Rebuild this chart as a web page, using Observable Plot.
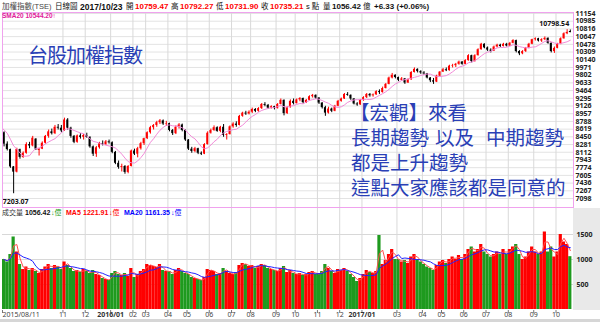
<!DOCTYPE html>
<html><head><meta charset="utf-8">
<script src="https://cdn.jsdelivr.net/npm/d3@7"></script>
<script src="https://cdn.jsdelivr.net/npm/@observablehq/plot@0.6"></script>
<style>
body{margin:0;background:#fff;}
#c{position:relative;width:600px;height:322px;overflow:hidden;background:#fff;font-family:"Liberation Sans","Noto Sans CJK TC",sans-serif;}
#c svg{position:absolute;left:0;}
.a{position:absolute;white-space:pre;line-height:1;}
.h{font-size:7.5px;color:#111;top:3px;}
.hb{font-size:8px;font-weight:bold;top:3px;}
.big{font-family:"Liberation Sans","Noto Sans CJK TC",sans-serif;color:#2a3fb6;font-size:19.5px;}
.v{font-size:7px;top:209px;}
</style></head><body><div id="c"></div><script>
// ---- data (one entry ≈ 3 trading days) ----
const months = ["2015/08/11","09","10","11","12","2016/01","02","03","04","05","06","07","08","09","10","11","12","2017/01","02","03","04","05","06","07","08","09","10"];
const monthCounts = [5,7,7,7,8,7,4,7,6,7,7,6,8,6,7,7,7,5,6,8,6,7,7,7,8,7,5];
const opens = [8540,8290,8170,7790,7676, 8170,8000,8090,8280,8250,8400,8150, 8180,8310,8460,8560,8520,8660,8640,
 8580,8820,8640,8460,8330,8470,8440, 8480,8440,8230,8070,8210,8300,8280,8340,
 8320,8110,7870,7780,7800,7670,7800, 8140,8070,8190,8300, 8410,8540,8650,8700,8760,8800,8730,
 8740,8590,8520,8660,8710,8590, 8380,8180,8130,8190,8090,8070,8280, 8530,8590,8650,8570,8660,8480,8500,
 8670,8730,8700,8900,8970,8950, 8990,9050,9010,9070,9160,9140,9080,9110, 9070,9160,9250,8960,9090,9230,
 9180,9260,9290,9200,9250,9330,9360, 9300,9190,9090,8970,9060,9010,9120, 9230,9280,9380,9360,9280,9170,9150,
 9250,9310,9380,9350,9370, 9440,9420,9510,9600,9740,9800, 9750,9690,9720,9630,9700,9860,9930,9880,
 9850,9830,9740,9680,9650,9780, 9870,9920,9900,10000,10010,10040,10090, 10040,10120,10230,10100,10230,10360,10480,
 10400,10350,10330,10420,10460,10430,10480, 10440,10500,10560,10320,10270,10320,10390,10480,
 10580,10600,10550,10580,10610,10500,10320, 10390,10480,10600,10710,10759.47];
const highs = [8560,8340,8180,7800,8200, 8180,8120,8320,8330,8460,8410,8200, 8340,8480,8600,8620,8700,8720,8700,
 8860,8850,8660,8480,8490,8520,8500, 8530,8450,8250,8240,8330,8360,8370,8380,
 8340,8130,7920,7850,7820,7820,8160, 8180,8220,8330,8420, 8560,8680,8720,8790,8830,8820,8790,
 8750,8610,8690,8740,8730,8600, 8390,8220,8220,8200,8120,8300,8560, 8620,8690,8670,8680,8720,8520,8690,
 8760,8780,8920,8990,9010,9020, 9080,9070,9090,9180,9200,9160,9130,9120, 9180,9280,9260,9110,9260,9280,
 9280,9310,9300,9270,9350,9380,9370, 9310,9200,9120,9100,9080,9140,9250, 9300,9400,9420,9370,9290,9200,9270,
 9330,9400,9400,9390,9460, 9480,9540,9620,9760,9840,9810, 9760,9750,9730,9720,9880,9960,9940,9900,
 9880,9840,9750,9730,9800,9880, 9950,9960,10020,10040,10060,10110,10100, 10140,10250,10240,10250,10380,10500,10490,
 10420,10380,10440,10480,10480,10500,10500, 10520,10580,10570,10340,10340,10410,10500,10590,
 10620,10610,10600,10640,10620,10510,10420, 10500,10620,10730,10798.54,10792.27];
const lows = [8230,8140,7760,7203.07,7660, 7960,7980,8070,8190,8230,8150,8030, 8170,8290,8420,8490,8500,8600,8540,
 8570,8600,8420,8300,8310,8400,8380, 8420,8200,8020,8000,8180,8250,8260,8290,
 8080,7840,7740,7680,7630,7640,7790, 8040,7990,8160,8260, 8390,8510,8600,8660,8720,8700,8680,
 8560,8480,8500,8620,8560,8350, 8150,8090,8100,8060,8040,8060,8270, 8510,8570,8550,8540,8440,8380,8490,
 8640,8660,8690,8880,8920,8930, 8960,8980,8990,9050,9110,9050,9060,9040, 9060,9150,8910,8940,9080,9150,
 9170,9220,9170,9180,9240,9300,9270, 9160,9060,8900,8950,8980,9000,9110, 9210,9270,9340,9250,9150,9120,9140,
 9230,9290,9320,9320,9360, 9380,9410,9500,9590,9720,9720, 9660,9670,9600,9620,9690,9850,9850,9820,
 9800,9720,9640,9600,9640,9770, 9860,9880,9890,9960,9970,10020,10020, 10030,10110,10070,10090,10220,10350,10380,
 10320,10290,10320,10400,10410,10420,10420, 10430,10490,10290,10230,10250,10300,10380,10470,
 10550,10530,10520,10560,10480,10290,10280, 10380,10470,10590,10690,10731.90];
const closes = [8290,8170,7790,7676,8174, 8000,8090,8280,8250,8420,8180,8180, 8310,8460,8560,8520,8660,8640,8580,
 8820,8640,8460,8330,8470,8440,8480, 8440,8230,8070,8210,8300,8280,8340,8320,
 8110,7870,7780,7800,7670,7800,8140, 8070,8190,8300,8410, 8540,8650,8700,8760,8800,8730,8740,
 8590,8520,8660,8710,8590,8380, 8180,8130,8190,8090,8070,8280,8530, 8590,8650,8570,8660,8480,8500,8670,
 8730,8700,8900,8970,8950,8990, 9050,9010,9070,9160,9140,9080,9110,9070, 9160,9250,8960,9090,9230,9180,
 9260,9290,9200,9250,9330,9360,9300, 9190,9090,8970,9060,9010,9120,9230, 9280,9380,9360,9280,9170,9150,9250,
 9310,9380,9350,9370,9440, 9420,9510,9600,9740,9800,9750, 9690,9720,9630,9700,9860,9930,9880,9850,
 9830,9740,9680,9650,9780,9870, 9920,9900,10000,10010,10040,10090,10040, 10120,10230,10100,10230,10360,10480,10400,
 10350,10330,10420,10460,10430,10480,10440, 10500,10560,10320,10270,10320,10390,10480,10580,
 10600,10550,10580,10610,10500,10320,10390, 10480,10600,10710,10740,10735.21];
// closes of the weeks before 2015/08/11, needed only to start the 20-day average
const preCloses = [8720,8700,8690,8650,8610,8570];
const volumes = [1000,950,1100,1450,1150, 900,800,850,780,820,760,720, 800,850,900,820,880,850,800,
 950,880,820,760,780,740,800, 760,720,780,700,680,620,600,580,
 720,760,700,680,720,660,820, 640,700,760,800, 900,880,860,840,900,780,760,
 760,700,780,820,760,720, 700,640,620,600,580,640,800, 780,760,700,720,820,760,720,
 700,740,880,920,900,860, 880,820,860,900,880,820,800,780, 760,820,860,740,780,720,
 700,720,680,700,740,760,700, 720,760,900,820,760,720,800, 780,820,760,700,640,560,620,
 700,780,740,720,760, 1480,900,980,1100,1200,1000, 1000,950,980,920,1050,1100,1000,950,
 900,850,820,780,880,950, 980,920,1000,1050,1000,1080,1000, 1100,1200,1250,1150,1200,1300,1150,
 1100,1050,1100,1150,1100,1200,1100, 1200,1250,1300,1100,1000,1050,1150,1250,
 1150,1100,1150,1550,1150,1250,1050, 1150,1500,1350,1300,1056.42];
const priceTicks = [7098,7267,7436,7605,7774,7943,8112,8281,8450,8619,8788,8957,9126,9295,9464,9633,9802,9971,10140,10309,10478,10647,10816,10985,11154];
const volumeTicks = [500,1000,1500];

// ---- derived ----
const N = closes.length;
const idx = d3.range(N);
const up = idx.map(i => closes[i] >= opens[i]);
const RED = "#ff0000", GREEN = "#1e9a1e";
const starts = []; {let a = 0; monthCounts.forEach(c => {starts.push(a); a += c;});}
const xDomain = [-0.5, N];
const xs = d3.scaleLinear(xDomain, [2, 573]);
const ticks = [];
{let right = -Infinity;
 months.forEach((m, j) => {
   const px = xs(starts[j] - 0.5);
   const w = m.length * 3.7;
   const left = j === 0 ? 2 : px - w / 2;
   if (left >= right + 3) { ticks.push({m, i: starts[j] - 0.5, j, bold: m.includes("/") && j > 0}); right = left + w; }
 });}
const gridTicks = ticks.filter(t => t.j > 0);
const allC = preCloses.concat(closes);
const P = preCloses.length;

const c = document.getElementById("c");
const price = Plot.plot({
  width: 600, height: 208, marginTop: 12, marginBottom: 1, marginLeft: 2, marginRight: 27,
  style: {background: "transparent", overflow: "visible"},
  x: {domain: xDomain, axis: null},
  y: {domain: [6901, 11176], axis: null},
  marks: [
    Plot.ruleY(priceTicks, {stroke: "#e3e3e3"}),
    Plot.ruleX(gridTicks, {x: "i", stroke: "#d9d9d9"}),
    Plot.ruleX(idx, {x: i => i, y1: i => lows[i], y2: i => highs[i], stroke: i => up[i] ? RED : "#000", strokeWidth: 1}),
    Plot.rect(idx, {x1: i => i - 0.3, x2: i => i + 0.3, y1: i => opens[i], y2: i => closes[i], fill: i => up[i] ? RED : "#000"}),
    Plot.lineY(allC, Plot.windowY({k: 7, anchor: "end"}, {x: (d, i) => i - P, y: d => d, stroke: "#f28ad8", strokeWidth: 1, clip: true})),
    Plot.text(priceTicks, {frameAnchor: "right", y: d => d, text: d => String(d), textAnchor: "start", dx: 2, fontSize: 7, fontWeight: "bold", fill: "#222"}),
    Plot.text([d3.minIndex(lows)], {x: i => i, y: i => lows[i], text: i => lows[i].toFixed(2), textAnchor: "start", dx: -11, dy: 5, lineAnchor: "top", fontSize: 7, fontWeight: "bold", fill: "#111"}),
    Plot.text([d3.maxIndex(highs)], {x: i => i, y: i => highs[i], text: i => highs[i].toFixed(2), textAnchor: "end", dx: 2, dy: -4, lineAnchor: "bottom", fontSize: 7, fontWeight: "bold", fill: "#111"}),
    Plot.frame({stroke: "#f0a2ee"})
  ]
});
price.style.top = "0px";
c.appendChild(price);

const vol = Plot.plot({
  width: 600, height: 114, marginTop: 0, marginBottom: 13, marginLeft: 2, marginRight: 27,
  style: {background: "transparent", overflow: "visible"},
  x: {domain: xDomain, axis: null},
  y: {domain: [0, 2020], axis: null},
  marks: [
    Plot.ruleY(volumeTicks, {stroke: "#d8d8d8"}),
    Plot.ruleX(gridTicks, {x: "i", stroke: "#d9d9d9"}),
    Plot.rect(idx, {x1: i => i - 0.5, x2: i => i + 0.5, y1: 0, y2: i => volumes[i], fill: i => up[i] ? RED : GREEN}),
    Plot.lineY(volumes, Plot.windowY({k: 2, anchor: "end"}, {x: (d, i) => i, y: d => d, stroke: "#ff5050", strokeWidth: 1})),
    Plot.lineY(volumes, Plot.windowY({k: 7, anchor: "end"}, {x: (d, i) => i, y: d => d, stroke: "#2222ff", strokeWidth: 1})),
    Plot.text(volumeTicks, {frameAnchor: "right", y: d => d, text: d => String(d), textAnchor: "start", dx: 3, fontSize: 7, fontWeight: "bold", fill: "#222"}),
    Plot.ruleX(ticks, {x: "i", y1: -20, y2: -80, stroke: "#777"}),
    Plot.text(ticks.filter(t => t.j === 0), {x: "i", frameAnchor: "bottom", text: "m", textAnchor: "start", dy: 7, fontSize: 7, fill: "#444"}),
    Plot.text(ticks.filter(t => t.j > 0 && !t.bold), {x: "i", frameAnchor: "bottom", text: "m", dy: 7, fontSize: 7, fill: "#444"}),
    Plot.text(ticks.filter(t => t.bold), {x: "i", frameAnchor: "bottom", text: "m", dy: 7, fontSize: 7, fontWeight: "bold", fill: "#333"})
  ]
});
vol.style.top = "208px";
const g = document.createElement("div");
g.style.cssText = "position:absolute;left:573px;top:208px;width:27px;height:102px;background:#e9e9e9;";
c.appendChild(g);
c.appendChild(vol);
const g2 = document.createElement("div");
g2.style.cssText = "position:absolute;left:0;top:319px;width:600px;height:3px;background:#d6d6d6;";
c.appendChild(g2);

// ---- texts ----
function t(txt, cls, left, top, style) {
  const d = document.createElement("div");
  d.className = "a " + cls; d.textContent = txt;
  d.style.left = left + "px"; if (top != null) d.style.top = top + "px";
  if (style) d.style.cssText += style;
  c.appendChild(d);
  return d;
}
t("加權指數(TSE)", "h", 2, null, "color:#444;");
t("日線圖", "h", 55);
t("2017/10/23", "hb", 80, null, "color:#111;font-size:8.5px;");
t("開", "h", 126); t(opens[N-1].toFixed(2), "hb", 135, null, "color:#f00;");
t("高", "h", 171); t(highs[N-1].toFixed(2), "hb", 180, null, "color:#f00;");
t("低", "h", 216); t(lows[N-1].toFixed(2), "hb", 225, null, "color:#f00;");
t("收", "h", 261); t(closes[N-1].toFixed(2), "hb", 270, null, "color:#f00;");
t("s 點", "h", 306);
t("量", "h", 323); t(volumes[N-1].toFixed(2), "hb", 332, null, "color:#111;"); t("億", "h", 363);
t("+6.33 (+0.06%)", "hb", 374, null, "color:#111;");
t("SMA20 10544.20↑", "h", 2, 13, "font-size:6.5px;font-weight:bold;color:#e0189a;");
t("成交量", "v", 2, null, "color:#333;");
t("1056.42", "v", 25, null, "font-weight:bold;color:#111;");
t("↓億", "v", 51, null, "color:#1e9a1e;");
t("MA5", "v", 66, null, "color:#f00;font-weight:bold;");
t("1221.91", "v", 83, null, "color:#f00;font-weight:bold;");
t("↓億", "v", 109, null, "color:#f00;");
t("MA20", "v", 124, null, "color:#00f;font-weight:bold;");
t("1161.35", "v", 145, null, "color:#00f;font-weight:bold;");
t("↓億", "v", 171, null, "color:#00f;");
t("台股加權指數", "big", 28, 46, "font-size:20px;letter-spacing:-1px;");
t("【宏觀】來看", "big", 350, 104);
const l2 = t("長期趨勢 以及  中期趨勢", "big", 351, 129);
t("都是上升趨勢", "big", 351, 154);
t("這點大家應該都是同意的", "big", 351, 179);
// the line's spaces are narrow in the reference: fit it to its width there (about 213px)
{const w = l2.getBoundingClientRect().width; l2.style.wordSpacing = ((213 - w) / 3).toFixed(2) + "px";}
</script></body></html>
